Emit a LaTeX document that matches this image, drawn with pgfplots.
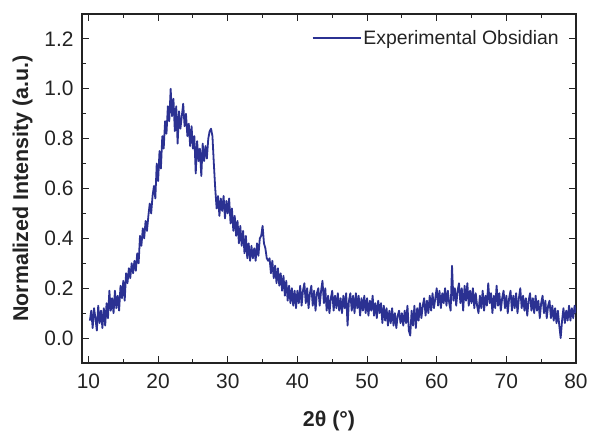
\documentclass[border=0pt]{standalone}
\usepackage{pgfplots}
\pgfplotsset{compat=1.18}
\usepackage{fontspec}
\setmainfont{Liberation Sans}
\definecolor{xrd}{RGB}{43,49,146}
\definecolor{axgray}{RGB}{35,35,35}
\begin{document}
\begin{tikzpicture}
\useasboundingbox (-82bp,-68bp) rectangle (508bp,363bp);
\begin{axis}[
  scale only axis,
  width=494bp, height=349bp,
  xmin=9.07, xmax=80, ymin=-0.1, ymax=1.3,
  xtick={10,20,...,80}, ytick={0,0.2,...,1.2},
  minor x tick num=1, minor y tick num=1,
  tick align=inside,
  major tick length=7bp, minor tick length=4bp,
  axis line style={axgray, line width=1.2bp},
  every tick/.style={axgray, line width=1.1bp},
  /pgf/number format/assume math mode=true,
  /pgf/number format/.cd, fixed, fixed zerofill, precision=1, /pgfplots/.cd,
  xticklabel style={/pgf/number format/precision=0, /pgf/number format/fixed zerofill=false},
  tick label style={font=\fontsize{21}{25}\selectfont, text=axgray},
  xticklabel style={yshift=-7bp},
  yticklabel style={xshift=-5bp},
  xlabel={\textbf{2θ (°)}},
  ylabel={\textbf{Normalized Intensity (a.u.)}},
  label style={font=\fontsize{21.5}{25}\selectfont, text=axgray},
  xlabel style={yshift=-16bp},
  ylabel style={yshift=5bp},
  legend style={at={(1,1)}, anchor=north east, xshift=-12bp, yshift=-12bp, draw=none, fill=none, font=\fontsize{19.5}{23}\selectfont, text=axgray},
  legend image code/.code={\draw[xrd, line width=1.6bp] (0bp,0bp) -- (48bp,0bp);},
]
\addplot[xrd, line width=1.8bp, line join=round] coordinates {
(10.2,0.07) (10.4,0.11) (10.6,0.04) (10.8,0.12) (11.0,0.08) (11.2,0.03) (11.4,0.13) (11.6,0.06) (11.8,0.11) (12.0,0.04)
(12.2,0.12) (12.4,0.05) (12.6,0.14) (12.8,0.08) (13.0,0.19) (13.2,0.11) (13.4,0.16) (13.6,0.10) (13.8,0.19) (14.0,0.12)
(14.2,0.17) (14.4,0.11) (14.6,0.21) (14.8,0.16) (15.0,0.23) (15.2,0.15) (15.4,0.26) (15.6,0.22) (15.8,0.28) (16.0,0.24)
(16.2,0.30) (16.4,0.26) (16.6,0.31) (16.8,0.27) (17.0,0.34) (17.2,0.30) (17.4,0.41) (17.6,0.37) (17.8,0.44) (18.0,0.40)
(18.2,0.47) (18.4,0.43) (18.6,0.49) (18.8,0.54) (19.0,0.50) (19.2,0.57) (19.4,0.61) (19.6,0.56) (19.8,0.70) (20.0,0.63)
(20.2,0.75) (20.4,0.68) (20.6,0.81) (20.8,0.76) (21.0,0.87) (21.2,0.82) (21.4,0.93) (21.6,0.87) (21.8,1.00) (22.0,0.89)
(22.2,0.96) (22.4,0.83) (22.6,0.93) (22.8,0.78) (23.0,0.91) (23.2,0.84) (23.4,0.89) (23.6,0.94) (23.8,0.85) (24.0,0.90)
(24.2,0.81) (24.4,0.86) (24.6,0.77) (24.8,0.85) (25.0,0.76) (25.2,0.81) (25.4,0.66) (25.6,0.79) (25.8,0.71) (26.0,0.76)
(26.2,0.65) (26.4,0.78) (26.6,0.71) (26.8,0.77) (27.0,0.72) (27.2,0.80) (27.4,0.83) (27.6,0.84) (27.8,0.81) (28.0,0.70)
(28.2,0.60) (28.4,0.52) (28.6,0.57) (28.8,0.49) (29.0,0.56) (29.2,0.51) (29.4,0.57) (29.6,0.48) (29.8,0.55) (30.0,0.50)
(30.2,0.56) (30.4,0.46) (30.6,0.52) (30.8,0.43) (31.0,0.49) (31.2,0.41) (31.4,0.47) (31.6,0.38) (31.8,0.45) (32.0,0.37)
(32.2,0.43) (32.4,0.34) (32.6,0.41) (32.8,0.32) (33.0,0.38) (33.2,0.31) (33.4,0.37) (33.6,0.32) (33.8,0.36) (34.0,0.31)
(34.2,0.38) (34.4,0.33) (34.6,0.40) (34.8,0.41) (35.0,0.45) (35.2,0.38) (35.4,0.36) (35.6,0.32) (35.8,0.31) (36.0,0.32)
(36.2,0.26) (36.4,0.31) (36.6,0.24) (36.8,0.29) (37.0,0.22) (37.2,0.28) (37.4,0.21) (37.6,0.26) (37.8,0.19) (38.0,0.25)
(38.2,0.17) (38.4,0.23) (38.6,0.15) (38.8,0.21) (39.0,0.14) (39.2,0.20) (39.4,0.13) (39.6,0.19) (39.8,0.12) (40.0,0.19)
(40.2,0.14) (40.4,0.21) (40.6,0.13) (40.8,0.19) (41.0,0.22) (41.2,0.14) (41.4,0.20) (41.6,0.12) (41.8,0.18) (42.0,0.21)
(42.2,0.13) (42.4,0.19) (42.6,0.11) (42.8,0.18) (43.0,0.20) (43.2,0.13) (43.4,0.19) (43.6,0.23) (43.8,0.14) (44.0,0.20)
(44.2,0.11) (44.4,0.17) (44.6,0.10) (44.8,0.16) (45.0,0.19) (45.2,0.11) (45.4,0.17) (45.6,0.12) (45.8,0.18) (46.0,0.11)
(46.2,0.16) (46.4,0.10) (46.6,0.17) (46.8,0.12) (47.0,0.18) (47.2,0.05) (47.4,0.15) (47.6,0.18) (47.8,0.11) (48.0,0.17)
(48.2,0.10) (48.4,0.18) (48.6,0.12) (48.8,0.17) (49.0,0.09) (49.2,0.16) (49.4,0.11) (49.6,0.17) (49.8,0.10) (50.0,0.16)
(50.2,0.09) (50.4,0.15) (50.6,0.11) (50.8,0.17) (51.0,0.09) (51.2,0.14) (51.4,0.08) (51.6,0.15) (51.8,0.10) (52.0,0.14)
(52.2,0.06) (52.4,0.13) (52.6,0.07) (52.8,0.12) (53.0,0.05) (53.2,0.11) (53.4,0.06) (53.6,0.12) (53.8,0.05) (54.0,0.10)
(54.2,0.04) (54.4,0.09) (54.6,0.11) (54.8,0.06) (55.0,0.10) (55.2,0.05) (55.4,0.11) (55.6,0.06) (55.8,0.13) (56.0,0.03)
(56.2,0.01) (56.4,0.11) (56.6,0.05) (56.8,0.13) (57.0,0.04) (57.2,0.12) (57.4,0.07) (57.6,0.14) (57.8,0.08) (58.0,0.13)
(58.2,0.16) (58.4,0.09) (58.6,0.15) (58.8,0.10) (59.0,0.17) (59.2,0.11) (59.4,0.18) (59.6,0.12) (59.8,0.16) (60.0,0.20)
(60.2,0.13) (60.4,0.19) (60.6,0.12) (60.8,0.18) (61.0,0.14) (61.2,0.20) (61.4,0.13) (61.6,0.19) (61.8,0.14) (62.0,0.11)
(62.2,0.29) (62.4,0.15) (62.6,0.20) (62.8,0.13) (63.0,0.19) (63.2,0.22) (63.4,0.14) (63.6,0.20) (63.8,0.11) (64.0,0.21)
(64.2,0.15) (64.4,0.22) (64.6,0.13) (64.8,0.19) (65.0,0.14) (65.2,0.20) (65.4,0.12) (65.6,0.18) (65.8,0.13) (66.0,0.10)
(66.2,0.17) (66.4,0.12) (66.6,0.19) (66.8,0.11) (67.0,0.17) (67.2,0.13) (67.4,0.22) (67.6,0.14) (67.8,0.18) (68.0,0.10)
(68.2,0.17) (68.4,0.12) (68.6,0.21) (68.8,0.13) (69.0,0.18) (69.2,0.11) (69.4,0.16) (69.6,0.19) (69.8,0.12) (70.0,0.17)
(70.2,0.10) (70.4,0.16) (70.6,0.19) (70.8,0.11) (71.0,0.17) (71.2,0.12) (71.4,0.18) (71.6,0.10) (71.8,0.16) (72.0,0.20)
(72.2,0.12) (72.4,0.17) (72.6,0.11) (72.8,0.16) (73.0,0.09) (73.2,0.15) (73.4,0.18) (73.6,0.11) (73.8,0.16) (74.0,0.10)
(74.2,0.17) (74.4,0.11) (74.6,0.15) (74.8,0.08) (75.0,0.14) (75.2,0.17) (75.4,0.10) (75.6,0.15) (75.8,0.08) (76.0,0.13)
(76.2,0.15) (76.4,0.08) (76.6,0.13) (76.8,0.07) (77.0,0.12) (77.2,0.06) (77.4,0.11) (77.6,0.05) (77.8,0.00) (78.0,0.07)
(78.2,0.12) (78.4,0.06) (78.6,0.11) (78.8,0.07) (79.0,0.13) (79.2,0.07) (79.4,0.12) (79.6,0.08) (79.8,0.13) (80.0,0.10)
};
\addlegendentry{Experimental Obsidian}
\end{axis}
\end{tikzpicture}
\end{document}
